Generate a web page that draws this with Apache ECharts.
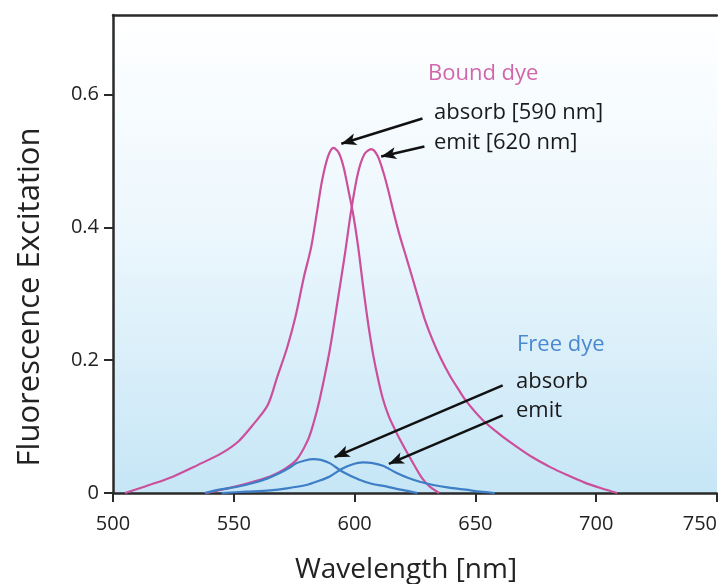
<!DOCTYPE html>
<html>
<head>
<meta charset="utf-8">
<title>Fluorescence Excitation</title>
<script src="https://cdn.jsdelivr.net/npm/echarts@6/dist/echarts.min.js"></script>
<style>
html,body{margin:0;padding:0;background:#fff;}
#chart{width:718px;height:584px;}
</style>
</head>
<body>
<div id="chart"></div>
<script>
// values: [wavelength nm, excitation]
var boundAbsorb = [[505,0],[515,0.012],[525,0.025],[535,0.042],[545,0.06],[552,0.078],[558,0.103],[564,0.132],
  [568,0.175],[572,0.218],[575.5,0.265],[579,0.325],[582,0.37],[584.5,0.425],[586.5,0.47],[589,0.507],
  [591.3,0.52],[593.5,0.512],[595.5,0.49],[597.5,0.455],[599.5,0.418],[601.5,0.37],[603.5,0.312],
  [605.5,0.258],[607.6,0.21],[609.7,0.172],[611.7,0.142],[614,0.117],[616.5,0.097],[619,0.079],
  [622,0.059],[625,0.04],[628,0.022],[631,0.01],[635,0]];
var boundEmit = [[538.5,0],[545,0.005],[551,0.01],[558,0.017],[565,0.025],[571,0.036],[576,0.05],[580.7,0.08],
  [583,0.105],[585.5,0.14],[589.7,0.215],[593,0.29],[596,0.36],[598.6,0.426],[601.4,0.482],[604,0.51],
  [606.9,0.518],[609.5,0.508],[612,0.482],[614,0.455],[616,0.425],[618.5,0.39],[621.4,0.355],[624,0.323],
  [626.5,0.292],[629,0.262],[632,0.233],[635.5,0.204],[639.4,0.177],[643,0.156],[646.3,0.138],[653,0.11],
  [660.2,0.088],[667,0.07],[674,0.053],[681,0.039],[688,0.027],[695,0.016],[701.8,0.0075],[708.7,0]];
var freeAbsorb = [[538,0],[544,0.005],[551,0.009],[558,0.015],[564,0.022],[569,0.03],[573,0.038],[576,0.045],
  [579.5,0.049],[582.8,0.051],[586,0.05],[589.7,0.045],[595,0.032],[602,0.02],[607,0.014],[613,0.01],[619,0.005],[626,0]];
var freeEmit = [[545,0],[555,0.002],[565,0.004],[572,0.007],[580,0.012],[585,0.018],[589.7,0.025],[595,0.037],
  [599,0.043],[603.4,0.046],[607.5,0.045],[611.7,0.041],[617,0.031],[622,0.023],[627,0.017],[632.5,0.012],
  [639,0.008],[646,0.005],[652,0.002],[658,0]];
var xTicks = [500, 550, 600, 650, 700, 750];
var yTicks = [0, 0.2, 0.4, 0.6];
// arrows: [from, to] in data units
var boundArrows = [[[628.1,0.564],[594.5,0.526]],[[628.9,0.522],[611,0.507]]];
var freeArrows = [[[661.3,0.162],[591.7,0.054]],[[661.3,0.117],[614.2,0.044]]];

var PINK = '#cb4f9b', BLUE = '#3d7ec6', FONT = 'Open Sans';

var chart = echarts.init(document.getElementById('chart'));

function arrowLine(list){
  return {
    silent: true,
    symbol: ['none', 'arrow'],
    symbolSize: [9, 15],
    label: {show: false},
    lineStyle: {color: '#111', width: 2.5, type: 'solid'},
    data: list.map(function(a){ return [{coord: a[0]}, {coord: a[1]}]; })
  };
}

function curve(name, data, color, arrows){
  var s = {
    name: name, type: 'line', data: data, smooth: 0.3,
    showSymbol: false, silent: true,
    lineStyle: {color: color, width: 2.2}
  };
  if (arrows) s.markLine = arrowLine(arrows);
  return s;
}

function note(text, x, y, color){
  return {type: 'text', x: x, y: y, silent: true,
    style: {text: text, fill: color, font: '22px "Open Sans"', verticalAlign: 'middle'}};
}

var option = {
  animation: false,
  grid: {
    left: 113, top: 15, right: 1, bottom: 91, show: true, borderWidth: 0,
    outerBoundsMode: 'none', containLabel: false,
    backgroundColor: new echarts.graphic.LinearGradient(0, 0, 0, 1, [
      {offset: 0, color: '#ffffff'},
      {offset: 0.45, color: '#ecf7fd'},
      {offset: 1, color: '#c6e6f6'}
    ])
  },
  xAxis: [{
    type: 'value', min: 500, max: 750, interval: 50,
    name: 'Wavelength [nm]', nameLocation: 'middle', nameGap: 63,
    nameTextStyle: {fontFamily: FONT, fontSize: 28, color: '#222', padding: [0, 18, 0, 0]},
    axisLine: {lineStyle: {color: '#2a2a2a', width: 2.5}},
    axisTick: {length: 9, lineStyle: {color: '#2a2a2a', width: 2}, customValues: xTicks},
    axisLabel: {customValues: xTicks, alignMaxLabel: 'right', margin: 21,
      fontFamily: FONT, fontSize: 20, color: '#222'},
    splitLine: {show: false}
  }, {
    type: 'value', position: 'top', min: 500, max: 750,
    axisLine: {show: true, lineStyle: {color: '#2a2a2a', width: 2.5}},
    axisTick: {show: false}, axisLabel: {show: false}, splitLine: {show: false}
  }],
  yAxis: {
    type: 'value', min: 0, max: 0.72,
    name: 'Fluorescence Excitation', nameLocation: 'middle', nameGap: 67,
    nameTextStyle: {fontFamily: FONT, fontSize: 31, color: '#222', padding: [0, 86, 0, 0]},
    axisLine: {show: true, lineStyle: {color: '#2a2a2a', width: 2.5}},
    axisTick: {show: true, length: 9, lineStyle: {color: '#2a2a2a', width: 2}, customValues: yTicks},
    axisLabel: {customValues: yTicks, margin: 14, fontFamily: FONT, fontSize: 20, color: '#222',
      formatter: function(v){ return v === 0 ? '0' : v.toFixed(1); }},
    splitLine: {show: false}
  },
  series: [
    curve('Bound absorb', boundAbsorb, PINK, boundArrows),
    curve('Bound emit', boundEmit, PINK),
    curve('Free absorb', freeAbsorb, BLUE, freeArrows),
    curve('Free emit', freeEmit, BLUE)
  ],
  graphic: [
    note('Bound dye', 428, 74, '#d266ac'),
    note('absorb [590 nm]', 434, 113, '#1a1a1a'),
    note('emit [620 nm]', 434, 143, '#1a1a1a'),
    note('Free dye', 517, 345, '#4a88cf'),
    note('absorb', 516, 382, '#1a1a1a'),
    note('emit', 516, 411, '#1a1a1a')
  ]
};
chart.setOption(option);
</script>
</body>
</html>
